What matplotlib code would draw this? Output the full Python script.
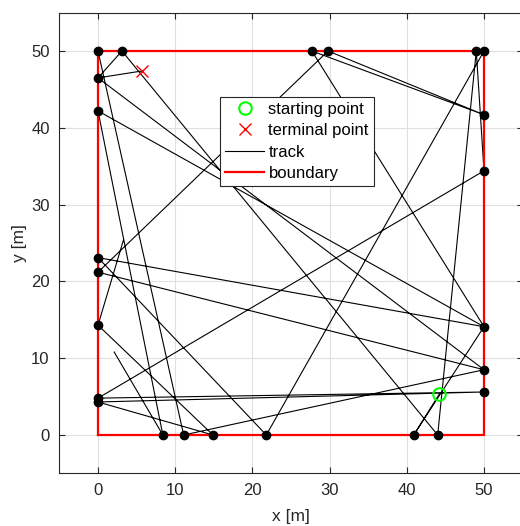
import numpy as np
import matplotlib.pyplot as plt

plt.rcParams['font.family'] = ['Liberation Sans', 'DejaVu Sans']

# room boundary (square, 50 m)
bound_x = [0, 50, 50, 0, 0]
bound_y = [0, 0, 50, 50, 0]

start_pt = (44.2, 5.3)
end_pt = (5.7, 47.4)

# track vertices, pieces separated by nan
track_x = [44.2, 40.9, 50.0, 0.0, 21.8, 50.0, 0.0, 11.1, 50.0, 0.0, 5.7, np.nan,
           2.1, 8.4, 0.0, 50.0, 27.7, 50.0, 29.8, 0.0, 50.0, np.nan,
           0.0, 3.1, 44.0, 49.0, 50.0, 0.0, 50.0, 0.0, 14.9, 0.0, 3.3]
track_y = [5.3, 0.0, 14.1, 23.1, 0.0, 50.0, 50.0, 0.0, 8.5, 46.5, 47.4, np.nan,
           10.8, 0.0, 42.2, 14.1, 50.0, 41.7, 50.0, 21.2, 8.5, np.nan,
           46.5, 50.0, 0.0, 50.0, 34.4, 4.8, 5.6, 4.3, 0.0, 14.3, 25.4]

tx = np.array(track_x)
ty = np.array(track_y)
# bounce points = track vertices lying on the wall
on_wall = (np.isclose(tx, 0) | np.isclose(tx, 50) | np.isclose(ty, 0) | np.isclose(ty, 50))
hits = sorted(set(zip(tx[on_wall], ty[on_wall])))
hx = [h[0] for h in hits]
hy = [h[1] for h in hits]

fig = plt.figure(figsize=(5.2, 5.26), dpi=100)
ax = fig.add_axes([59.4 / 520, 52.6 / 526, 463.2 / 520, 460.8 / 526])

ax.plot(start_pt[0], start_pt[1], 'o', color=(0, 1, 0), mfc='none', ms=9, mew=1.5,
        label='starting point', zorder=5)
ax.plot(end_pt[0], end_pt[1], 'x', color=(1, 0, 0), ms=8, mew=1.0,
        label='terminal point', zorder=5)
ax.plot(tx, ty, '-', color='k', lw=0.8, label='track', zorder=2)
ax.plot(bound_x, bound_y, '-', color=(1, 0, 0), lw=1.6, label='boundary', zorder=3)
ax.plot(hx, hy, 'o', color='k', ms=6, zorder=4)

ax.set_xlim(-5, 55)
ax.set_ylim(-5, 55)
ax.set_xticks(range(0, 51, 10))
ax.set_yticks(range(0, 51, 10))
ax.grid(True, color='#e0e0e0', lw=0.8)
ax.set_axisbelow(True)
ax.tick_params(direction='in', top=True, right=True, labelsize=12, length=4,
               pad=7, color='#262626', labelcolor='#262626')
for s in ax.spines.values():
    s.set_color('#262626')
    s.set_linewidth(0.8)
ax.set_xlabel('x [m]', fontsize=12.5, color='#262626', labelpad=8)
ax.set_ylabel('y [m]', fontsize=12.5, color='#262626', labelpad=3)

leg = ax.legend(loc='upper left', bbox_to_anchor=(0.347, 0.817), fontsize=12,
                frameon=True, fancybox=False, edgecolor='#262626', framealpha=1,
                handlelength=2.35, borderpad=0.3, labelspacing=0.38,
                handletextpad=0.25, borderaxespad=0)
leg.get_frame().set_linewidth(0.8)

fig.savefig('out.png', dpi=100)
